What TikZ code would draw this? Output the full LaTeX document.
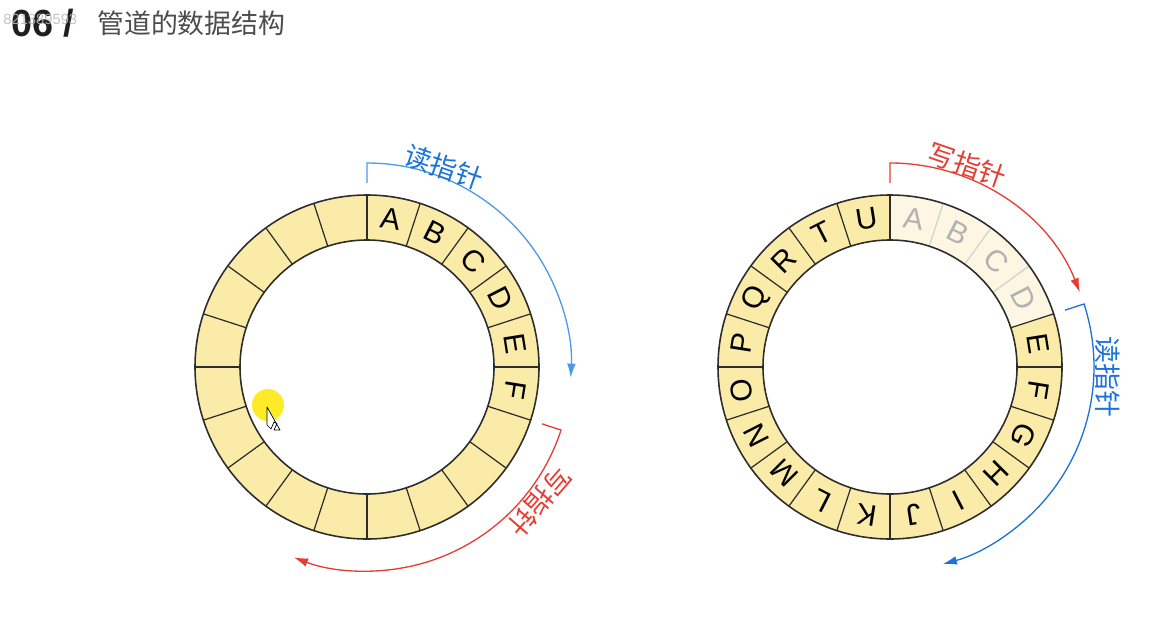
\documentclass[tikz,border=0pt]{standalone}
\usepackage{fontspec}
\setmainfont{Liberation Sans}
\newfontfamily\cjk{Noto Sans CJK SC}
\usetikzlibrary{arrows.meta}

\definecolor{cellfill}{RGB}{250,236,168}
\definecolor{oldfill}{RGB}{252,246,226}
\definecolor{edge}{RGB}{45,45,45}
\definecolor{readblue}{RGB}{75,155,232}
\definecolor{readdark}{RGB}{25,115,218}
\definecolor{writered}{RGB}{228,62,52}

\begin{document}
\begin{tikzpicture}[
  x=0.02cm, y=0.02cm,
  letter/.style = {font=\fontsize{17}{17}\selectfont, inner sep=0pt},
  oldletter/.style = {letter, text=black!30},
  ptr/.style = {line width=0.75pt, -{Latex[length=8pt, width=5pt]}},
  ptrlabel/.style = {font=\cjk\fontsize{15.3}{16}\selectfont, inner sep=0pt}
]
  \useasboundingbox (0,0) rectangle (1152,-639);

  % heading
  \node[font=\bfseries\fontsize{21.5}{22}\selectfont, text=black!88, anchor=west, inner sep=0pt] (num) at (11,-23) {06 /};
  \node[font=\cjk\fontsize{15.3}{16}\selectfont, text=black!70, anchor=west, inner sep=0pt] (title) at (97,-23) {管道的数据结构};
  \node[font=\fontsize{8.4}{9}\selectfont, text=gray!55, opacity=0.85, anchor=west, inner sep=0pt] (mark) at (3,-19) {821389593};

  % left buffer: A..F written, read pointer at A
  \begin{scope}[shift={(367,-367)}]
    \fill[cellfill, even odd rule] (0,0) circle[radius=172] circle[radius=127];
    \foreach \i in {0,...,19}
      \draw[edge, line width=0.7pt] ({90-18*\i}:127) -- ({90-18*\i}:172);
    \draw[edge, line width=0.9pt] (0,0) circle[radius=172] (0,0) circle[radius=127];
    \foreach \l [count=\i from 0] in {A,...,F}
      \node[letter, rotate=-9-18*\i] (a\l) at ({81-18*\i}:150) {\l};

    \draw[ptr, readblue] (90:184) -- (90:204) arc[start angle=90, end angle=-3, radius=204];
    \node[ptrlabel, text=readdark, rotate=-19] (aread) at (69:214) {读指针};
    \draw[ptr, writered] (-18:184) -- (-18:204) arc[start angle=-18, end angle=-111, radius=204];
    \node[ptrlabel, text=writered, rotate=-131] (awrite) at (-38:219) {写指针};

    % mouse cursor
    \fill[yellow!90!orange, opacity=0.85] (-99,-38) circle[radius=16];
    \draw[black, fill=white, line width=0.4pt, line join=round]
      (-100,-40) -- ++(0,-18) -- ++(4,-4) -- ++(3,7) -- ++(3,-1.5) -- ++(-3,-6.5) -- ++(6,0) -- cycle;
  \end{scope}

  % right buffer: wrapped around, A..D already read
  \begin{scope}[shift={(890,-367)}]
    \fill[cellfill, even odd rule] (0,0) circle[radius=172] circle[radius=127];
    \fill[oldfill] (90:127) -- (90:172) arc[start angle=90, end angle=18, radius=172]
      -- (18:127) arc[start angle=18, end angle=90, radius=127] -- cycle;
    \foreach \i in {1,2,3}
      \draw[black!18, line width=0.7pt] ({90-18*\i}:127) -- ({90-18*\i}:172);
    \foreach \i in {0,4,5,...,19}
      \draw[edge, line width=0.7pt] ({90-18*\i}:127) -- ({90-18*\i}:172);
    \draw[edge, line width=0.9pt] (0,0) circle[radius=172] (0,0) circle[radius=127];
    \foreach \l [count=\i from 0] in {A,B,C,D}
      \node[oldletter, rotate=-9-18*\i] (b\l) at ({81-18*\i}:150) {\l};
    \foreach \l [count=\i from 4] in {E,F,G,H,I,J,K,L,M,N,O,P,Q,R,T,U}
      \node[letter, rotate=-9-18*\i] (b\l) at ({81-18*\i}:150) {\l};

    \draw[ptr, writered] (90:184) -- (90:204) arc[start angle=90, end angle=21.5, radius=204];
    \node[ptrlabel, text=writered, rotate=-19] (bwrite) at (69:216) {写指针};
    \draw[ptr, readdark] (18:184) -- (18:204) arc[start angle=18, end angle=-75, radius=204];
    \node[ptrlabel, text=readdark, rotate=-90] (bread) at (-2.6:218) {读指针};
  \end{scope}
\end{tikzpicture}
\end{document}
